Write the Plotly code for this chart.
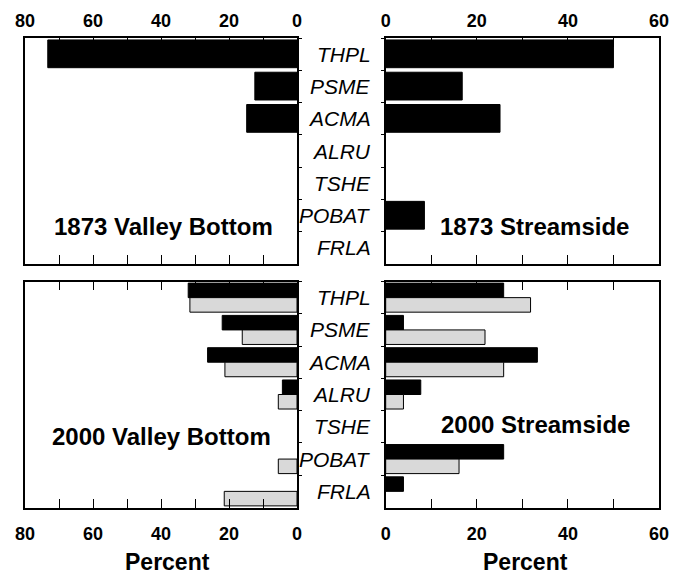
import plotly.graph_objects as go

species = ["THPL", "PSME", "ACMA", "ALRU", "TSHE", "POBAT", "FRLA"]

vb_1873 = [73.3, 12.4, 14.8, 0, 0, 0, 0]
ss_1873 = [50.0, 16.8, 25.1, 0, 0, 8.5, 0]

vb_2000_black = [32.0, 22.0, 26.3, 4.3, 0, 0, 0]
vb_2000_grey = [31.5, 16.1, 21.2, 5.5, 0, 5.5, 21.4]
ss_2000_black = [25.9, 3.9, 33.3, 7.7, 0, 25.9, 3.9]
ss_2000_grey = [31.8, 21.8, 25.9, 3.9, 0, 16.1, 0]

panel_titles = ["1873 Valley Bottom", "1873 Streamside", "2000 Valley Bottom", "2000 Streamside"]
axis_title = "Percent"

W, H = 677, 574
FONT = "Liberation Sans, Arial, sans-serif"
GREY = "#d9d9d9"

def px(x):
    return x / W

def py(y):
    return 1 - y / H

left_dom = [px(25), px(297)]
right_dom = [px(385.7), px(659)]
top_dom = [py(264), py(38)]
bot_dom = [py(507.5), py(281.5)]

fig = go.Figure()

def hbar(x, axes, color, width, offset):
    xa, ya = axes
    fig.add_trace(go.Bar(
        x=[v if v else None for v in x], y=species, orientation="h", xaxis=xa, yaxis=ya,
        marker=dict(color=color, line=dict(color="black", width=1)),
        width=width, offset=offset, showlegend=False, hoverinfo="x+y"))

hbar(vb_1873, ("x", "y"), "black", 0.86, -0.44)
hbar(ss_1873, ("x2", "y2"), "black", 0.86, -0.44)
hbar(vb_2000_black, ("x3", "y3"), "black", 0.45, -0.45)
hbar(vb_2000_grey, ("x3", "y3"), GREY, 0.45, 0.0)
hbar(ss_2000_black, ("x4", "y4"), "black", 0.45, -0.45)
hbar(ss_2000_grey, ("x4", "y4"), GREY, 0.45, 0.0)

def xaxis(dom, anchor, rng, side, standoff):
    return dict(
        domain=dom, anchor=anchor, range=rng, side=side, automargin=False,
        dtick=20, tick0=0, ticks="inside", ticklen=9, tickwidth=1, tickcolor="black",
        minor=dict(dtick=10, tick0=0, ticks="inside", ticklen=9, tickwidth=1, tickcolor="black"),
        showline=True, linecolor="black", linewidth=1.5, mirror="allticks",
        showgrid=False, zeroline=False,
        tickfont=dict(family=FONT, size=18, color="black", weight="bold"),
        ticklabelstandoff=standoff, fixedrange=True)

def yaxis(dom, anchor, side):
    return dict(
        domain=dom, anchor=anchor, side=side, type="category", automargin=False,
        categoryorder="array", categoryarray=species, range=[6.5, -0.5],
        showticklabels=False, ticks="outside", ticklen=3, tickson="boundaries",
        tickcolor="black", showline=True, linecolor="black", linewidth=1.5, mirror=True,
        showgrid=False, zeroline=False, fixedrange=True)

fig.update_layout(
    width=W, height=H, margin=dict(l=0, r=0, t=0, b=0, autoexpand=False),
    paper_bgcolor="white", plot_bgcolor="white", barmode="overlay",
    xaxis=xaxis(left_dom, "y", [80, 0], "top", 2),
    yaxis=yaxis(top_dom, "x", "right"),
    xaxis2=xaxis(right_dom, "y2", [0, 60], "top", 2),
    yaxis2=yaxis(top_dom, "x2", "left"),
    xaxis3=xaxis(left_dom, "y3", [80, 0], "bottom", 9),
    yaxis3=yaxis(bot_dom, "x3", "right"),
    xaxis4=xaxis(right_dom, "y4", [0, 60], "bottom", 9),
    yaxis4=yaxis(bot_dom, "x4", "left"),
)

anns = []
for yref in ("y2", "y4"):
    for s in species:
        anns.append(dict(text=s, x=px(373), xref="paper", xanchor="right",
                         y=s, yref=yref, yanchor="middle", showarrow=False,
                         font=dict(family=FONT, size=21, color="black", style="italic")))

title_pos = [(163, 227), (534.5, 227), (161, 436), (535, 424)]
for t, (tx, ty) in zip(panel_titles, title_pos):
    anns.append(dict(text=t, x=px(tx), y=py(ty), xref="paper", yref="paper",
                     xanchor="center", yanchor="middle", showarrow=False,
                     font=dict(family=FONT, size=24, color="black", weight="bold")))

for tx in (167, 525):
    anns.append(dict(text=axis_title, x=px(tx), y=py(577), xref="paper", yref="paper",
                     xanchor="center", yanchor="bottom", showarrow=False,
                     font=dict(family=FONT, size=23, color="black", weight="bold")))

fig.update_layout(annotations=anns)

fig.write_html("out.html", config={"displayModeBar": False},
               post_script="document.body.style.margin='0';document.body.style.overflow='hidden';")
